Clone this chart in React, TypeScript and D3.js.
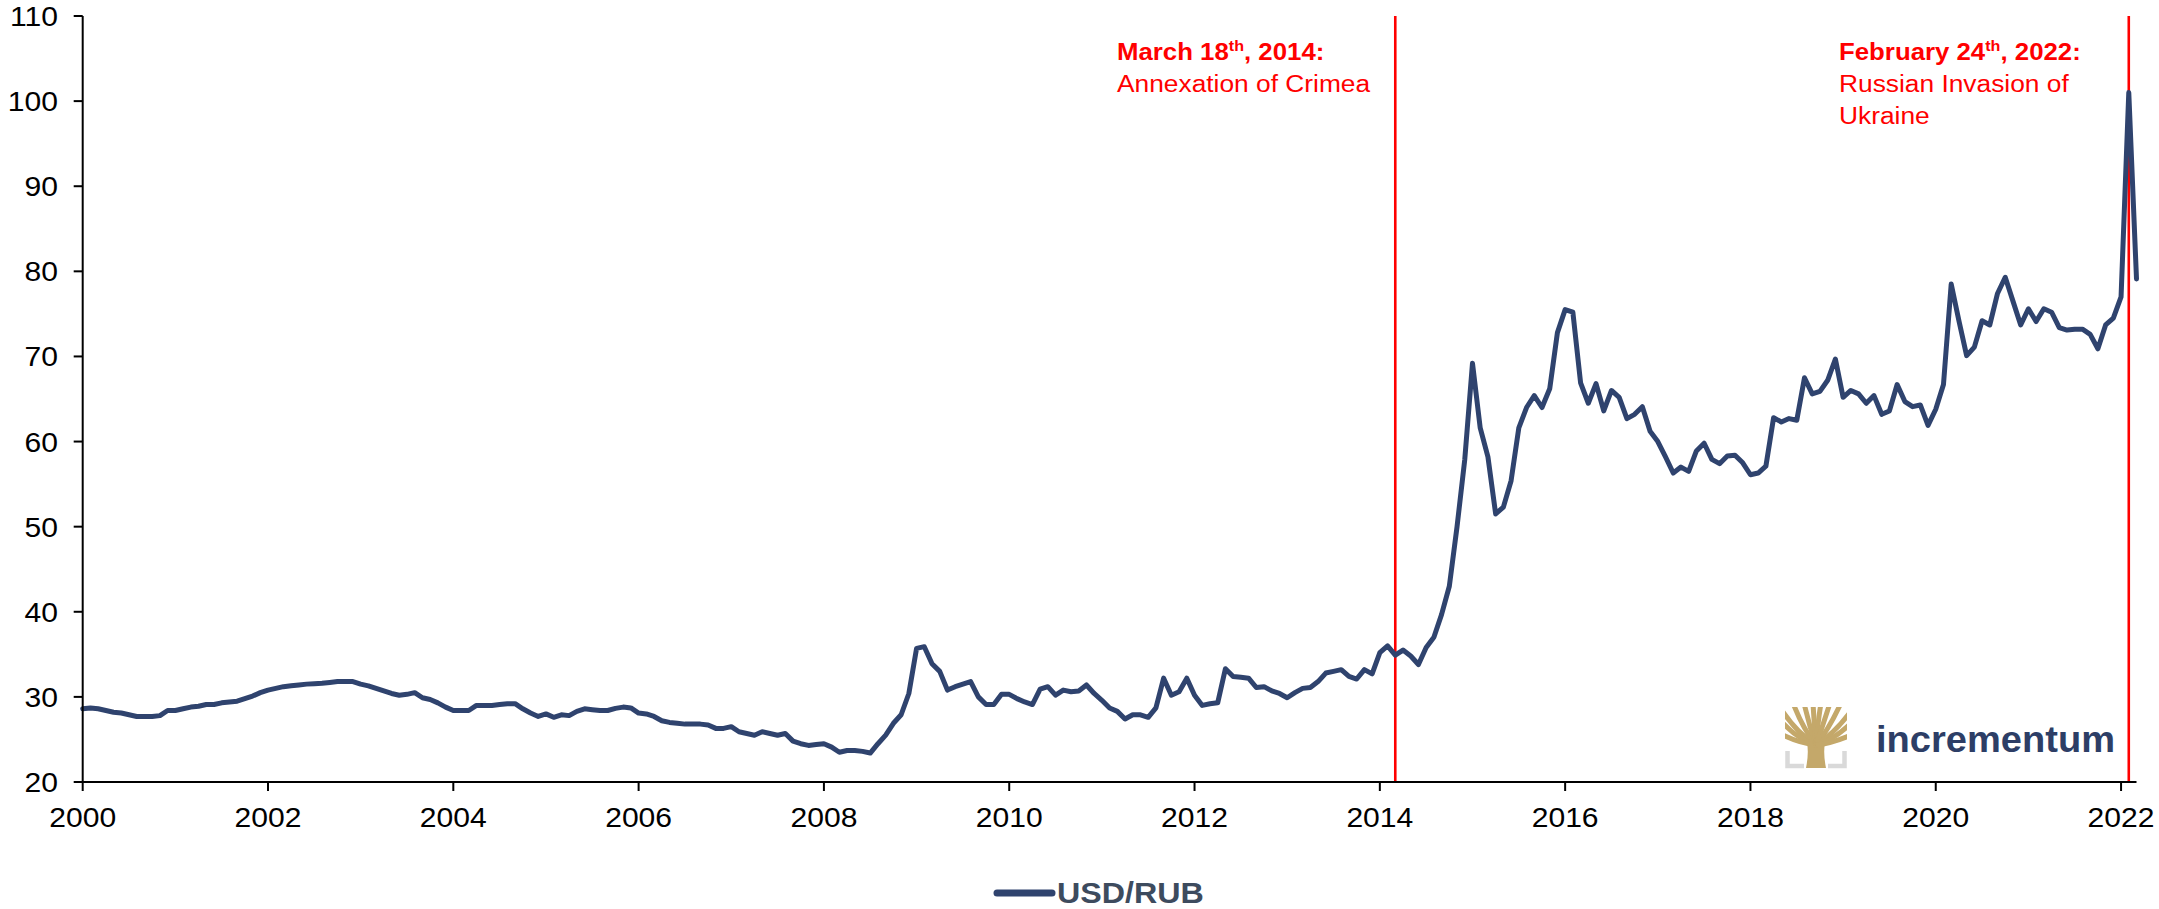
import React from 'react';
import * as d3 from 'd3';

// Monthly USD/RUB, Jan 2000 .. Mar 2022 (month-end values)
const START_YEAR = 2000;
const usdRub: number[] = [
  // 2000
  28.6, 28.7, 28.6, 28.4, 28.2, 28.1, 27.9, 27.7, 27.7, 27.7, 27.8, 28.4,
  // 2001
  28.4, 28.6, 28.8, 28.9, 29.1, 29.1, 29.3, 29.4, 29.5, 29.8, 30.1, 30.5,
  // 2002
  30.8, 31.0, 31.2, 31.3, 31.4, 31.5, 31.55, 31.6, 31.7, 31.8, 31.8, 31.8,
  // 2003
  31.5, 31.3, 31.0, 30.7, 30.4, 30.2, 30.3, 30.5, 29.9, 29.7, 29.3, 28.8,
  // 2004
  28.4, 28.4, 28.4, 29.0, 29.0, 29.0, 29.1, 29.2, 29.2, 28.6, 28.1, 27.7,
  // 2005
  28.0, 27.6, 27.9, 27.8, 28.3, 28.6, 28.5, 28.4, 28.4, 28.65, 28.8, 28.7,
  // 2006
  28.1, 28.0, 27.7, 27.2, 27.0, 26.9, 26.8, 26.8, 26.8, 26.7, 26.3, 26.3,
  // 2007
  26.5, 25.9, 25.7, 25.5, 25.9, 25.7, 25.5, 25.7, 24.8, 24.5, 24.3, 24.4,
  // 2008
  24.5, 24.1, 23.5, 23.7, 23.7, 23.6, 23.4, 24.5, 25.5, 26.9, 27.9, 30.4,
  // 2009
  35.7, 35.9, 33.9, 33.0, 30.8, 31.2, 31.5, 31.8, 30.0, 29.1, 29.1, 30.3,
  // 2010
  30.3, 29.8, 29.4, 29.1, 30.9, 31.2, 30.2, 30.8, 30.6, 30.7, 31.4, 30.4,
  // 2011
  29.6, 28.7, 28.3, 27.4, 27.9, 27.9, 27.6, 28.7, 32.2, 30.2, 30.6, 32.2,
  // 2012
  30.2, 29.0, 29.2, 29.3, 33.3, 32.4, 32.3, 32.2, 31.1, 31.2, 30.7, 30.4,
  // 2013
  29.9, 30.5, 31.0, 31.1, 31.8, 32.8, 33.0, 33.2, 32.4, 32.1, 33.2, 32.7,
  // 2014
  35.2, 36.0, 34.9, 35.5, 34.8, 33.8, 35.8, 37.0, 39.7, 43.0, 50.0, 57.9,
  // 2015
  69.2, 61.6, 58.2, 51.5, 52.3, 55.4, 61.6, 64.0, 65.4, 64.0, 66.2, 72.8,
  // 2016
  75.5, 75.2, 66.9, 64.5, 66.8, 63.6, 66.0, 65.2, 62.7, 63.2, 64.1, 61.2,
  // 2017
  60.0, 58.2, 56.3, 57.0, 56.5, 58.9, 59.8, 57.9, 57.4, 58.3, 58.4, 57.5,
  // 2018
  56.1, 56.3, 57.1, 62.8, 62.3, 62.7, 62.5, 67.5, 65.6, 65.9, 67.2, 69.7,
  // 2019
  65.2, 66.0, 65.6, 64.5, 65.4, 63.2, 63.6, 66.7, 64.7, 64.1, 64.3, 61.9,
  // 2020
  63.8, 66.7, 78.5, 74.2, 70.1, 71.1, 74.2, 73.7, 77.4, 79.3, 76.5, 73.7,
  // 2021
  75.6, 74.1, 75.6, 75.2, 73.4, 73.1, 73.2, 73.2, 72.6, 70.9, 73.7, 74.5,
  // 2022
  77.0, 101.0, 79.1,
];

const yTicks: number[] = [20, 30, 40, 50, 60, 70, 80, 90, 100, 110];
const xTickYears: number[] = [2000, 2002, 2004, 2006, 2008, 2010, 2012, 2014, 2016, 2018, 2020, 2022];

// Events: month index from Jan 2000
const eventMonths: number[] = [170, 265];
const eventTitles: string[] = ['March 18', 'February 24'];
const eventSups: string[] = ['th', 'th'];
const eventTitleEnds: string[] = [', 2014:', ', 2022:'];
const eventLines: string[][] = [['Annexation of Crimea'], ['Russian Invasion of', 'Ukraine']];

const seriesName = 'USD/RUB';
const brandName = 'incrementum';

const FONT = '"Liberation Sans", Arial, Helvetica, sans-serif';
const LINE_COLOR = '#2F436E';
const RED = '#FF0000';
const GOLD = '#C4A86A';
const SX = 1.075; // horizontal stretch of the reference's text

type TProps = {
  x: number;
  y: number;
  anchor?: 'start' | 'middle' | 'end';
  size: number;
  weight?: string;
  fill?: string;
  children?: React.ReactNode;
};

function T({ x, y, anchor = 'start', size, weight = 'normal', fill = '#000', children }: TProps) {
  return (
    <text
      transform={`translate(${x},${y}) scale(${SX},1)`}
      textAnchor={anchor}
      fontSize={size}
      fontWeight={weight}
      fill={fill}
    >
      {children}
    </text>
  );
}

export default function App() {
  const W = 2159;
  const H = 909;
  const left = 82.7;
  const right = 2136.5;
  const top = 16;
  const bottom = 782;

  const x = d3.scaleLinear().domain([0, usdRub.length - 1]).range([left, right]);
  const y = d3.scaleLinear().domain([20, 110]).range([bottom, top]);

  const line = d3
    .line<number>()
    .x((_, i) => x(i))
    .y((d) => y(d));

  const annX = [1117, 1839];

  // logo geometry
  const lx = 1785;
  const ly = 707;
  const cx = lx + 31;
  const cy = ly + 36;

  const branches: number[][] = [
    // [endX, endY, ctrlX, ctrlY] relative to logo origin
    [-4, 2, 12, 26],
    [-4, 14, 12, 32],
    [-4, 27, 14, 36],
    [8, -4, 18, 22],
    [19, -4, 24, 18],
    [28, -4, 29, 14],
    [36, -4, 33, 14],
    [45, -4, 38, 18],
    [56, -4, 44, 22],
    [66, 4, 50, 26],
    [66, 16, 50, 32],
    [66, 28, 48, 36],
  ];

  return (
    <svg
      width={W}
      height={H}
      viewBox={`0 0 ${W} ${H}`}
      style={{ position: 'absolute', left: 0, top: 0, display: 'block', background: '#fff' }}
      fontFamily={FONT}
    >
      <defs>
        <clipPath id="treeClip">
          <rect x={lx} y={ly} width={62} height={61} />
        </clipPath>
      </defs>
      <rect x={0} y={0} width={W} height={H} fill="#fff" />

      {/* event lines */}
      {eventMonths.map((m, i) => (
        <line key={'ev' + i} x1={x(m)} x2={x(m)} y1={top} y2={bottom} stroke={RED} strokeWidth={2.6} />
      ))}

      {/* series */}
      <path d={line(usdRub) || ''} fill="none" stroke={LINE_COLOR} strokeWidth={5} strokeLinejoin="round" strokeLinecap="round" />

      {/* y axis */}
      <line x1={left} x2={left} y1={top} y2={bottom} stroke="#000" strokeWidth={2} />
      {yTicks.map((t) => (
        <g key={'y' + t}>
          <line x1={left - 9} x2={left} y1={y(t)} y2={y(t)} stroke="#000" strokeWidth={2} />
          <T x={58} y={y(t) + 10} anchor="end" size={28}>
            {t}
          </T>
        </g>
      ))}

      {/* x axis */}
      <line x1={left} x2={right} y1={bottom} y2={bottom} stroke="#000" strokeWidth={2} />
      {xTickYears.map((yr) => {
        const m = (yr - START_YEAR) * 12;
        return (
          <g key={'x' + yr}>
            <line x1={x(m)} x2={x(m)} y1={bottom} y2={bottom + 9} stroke="#000" strokeWidth={2} />
            <T x={x(m)} y={827} anchor="middle" size={28}>
              {yr}
            </T>
          </g>
        );
      })}

      {/* annotations */}
      {eventMonths.map((m, i) => (
        <g key={'ann' + i}>
          <T x={annX[i]} y={59.5} size={24} weight="bold" fill={RED}>
            {eventTitles[i]}
            <tspan fontSize={15} dy={-9}>
              {eventSups[i]}
            </tspan>
            <tspan dy={9}>{eventTitleEnds[i]}</tspan>
          </T>
          {eventLines[i].map((ln, j) => (
            <T key={j} x={annX[i]} y={91.7 + j * 32.3} size={24.5} fill={RED}>
              {ln}
            </T>
          ))}
        </g>
      ))}

      {/* logo */}
      <g>
        {/* gray brackets */}
        <path
          d={`M${lx + 2.5},${ly + 44} L${lx + 2.5},${ly + 59} L${lx + 19},${ly + 59}`}
          fill="none"
          stroke="#D9D9D9"
          strokeWidth={4.5}
        />
        <path
          d={`M${lx + 59.5},${ly + 44} L${lx + 59.5},${ly + 59} L${lx + 43},${ly + 59}`}
          fill="none"
          stroke="#D9D9D9"
          strokeWidth={4.5}
        />
        <g clipPath="url(#treeClip)">
          {/* trunk */}
          <path
            d={`M${lx + 21},${ly + 61} L${lx + 41},${ly + 61} Q${lx + 38},${ly + 46} ${lx + 40},${ly + 36} L${lx + 22},${ly + 36} Q${lx + 24},${ly + 46} ${lx + 21},${ly + 61} Z`}
            fill={GOLD}
          />
          {branches.map((b, i) => (
            <path
              key={'br' + i}
              d={`M${cx},${cy + 2} Q${lx + b[2]},${ly + b[3]} ${lx + b[0]},${ly + b[1]}`}
              fill="none"
              stroke={GOLD}
              strokeWidth={5}
            />
          ))}
        </g>
        <text
          x={1876}
          y={751.5}
          fontSize={37}
          fontWeight="bold"
          fill="#2D3E66"
          textLength={239}
          lengthAdjust="spacingAndGlyphs"
        >
          {brandName}
        </text>
      </g>

      {/* legend */}
      <line x1={997} x2={1052} y1={893} y2={893} stroke={LINE_COLOR} strokeWidth={7} strokeLinecap="round" />
      <T x={1057} y={902.7} size={30} weight="bold" fill="#3D4B5E">
        {seriesName}
      </T>
    </svg>
  );
}
